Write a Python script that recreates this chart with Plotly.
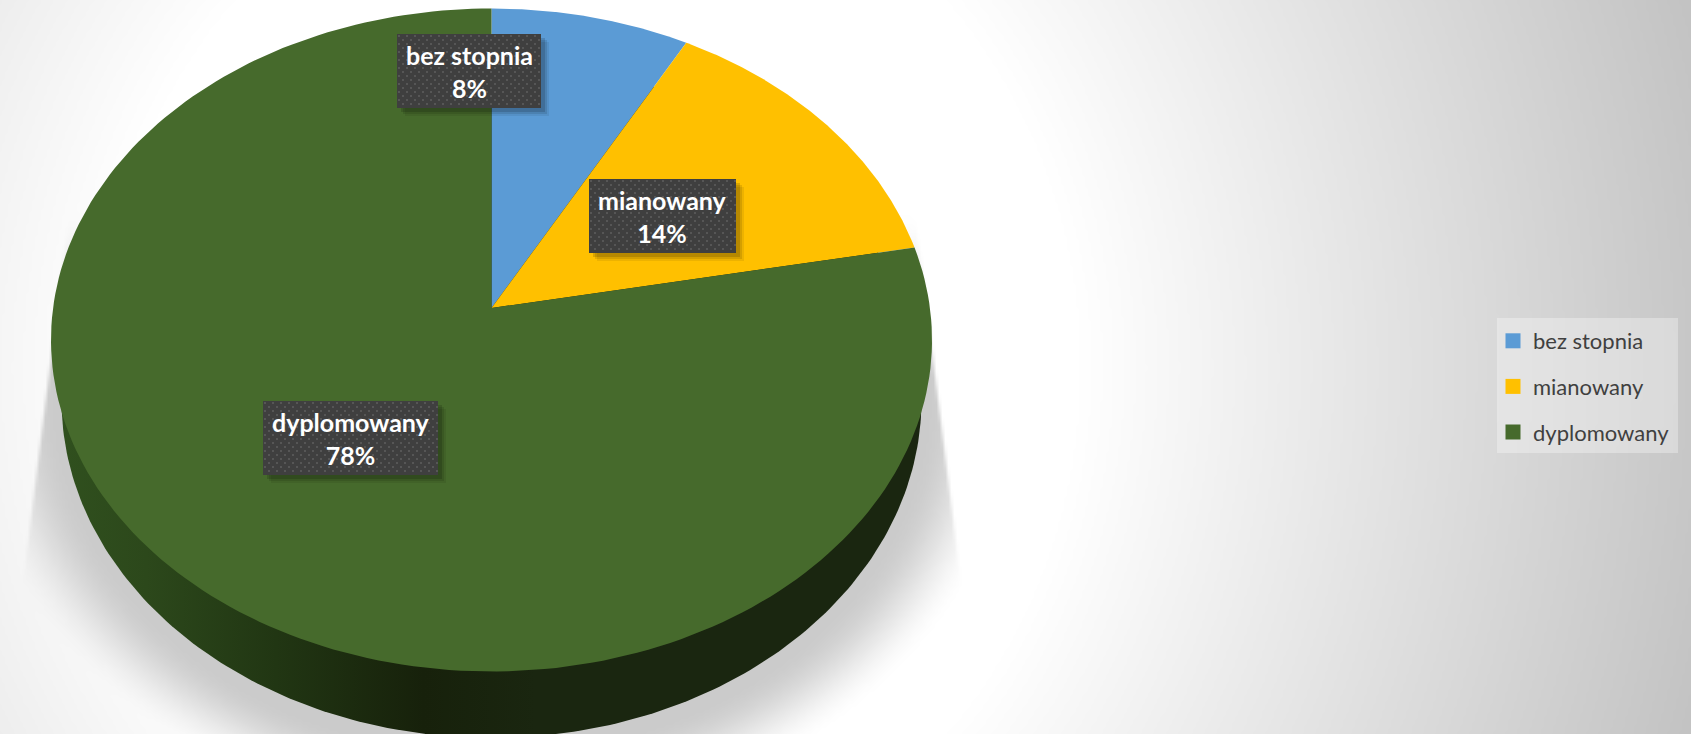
import numpy as np
import plotly.graph_objects as go

categories = ["bez stopnia", "mianowany", "dyplomowany"]
values = [8, 14, 78]
colors = ["#5B9BD5", "#FFC000", "#466A2C"]

W, H = 1691, 734
CX, CY, RX, RY = 491.5, 340.0, 440.5, 331.5
APEX = (CY - 308.0) / RY          # perspective shift of the pie centre


def rim(frac):
    """Point on the tilted pie's rim for a cumulative share (0..1), clockwise from top."""
    th = 2 * np.pi * np.asarray(frac, dtype=float)
    u, v = np.sin(th), np.cos(th)
    d = 1 + APEX * v
    return CX + RX * u * np.sqrt(1 - APEX ** 2) / d, CY - RY * (v + APEX) / d


# page background: soft radial gradient plus the pie's blurred drop shadow
gx = np.arange(-3, W + 6, 3.0)
gy = np.arange(-3, H + 6, 3.0)
X, Y = np.meshgrid(gx, gy)
d = np.sqrt(((X - 590) / 1101) ** 2 + ((Y - 367) / 1200) ** 2)
base = 255 - 100 * np.clip(d - 0.44, 0, None)


def smooth(t):
    t = np.clip(t, 0, 1)
    return t * t * (3 - 2 * t)


de = np.sqrt(((X - CX) / 482) ** 2 + ((Y - 395) / 395) ** 2)
a = smooth((1 - de) * 450 / 90 + 0.5)
hw = 430 + (Y - 270) * 0.125
a = a * smooth((hw - np.abs(X - CX)) / 5 + 0.5) * smooth((Y - 205) / 150)
z = np.round(base * (1 - a) + 203 * a).astype(np.uint8)

fig = go.Figure()
fig.add_trace(go.Heatmap(x=gx, y=gy, z=z, zmin=0, zmax=255, zsmooth="best", showscale=False,
                         colorscale=[[0, "#000000"], [1, "#ffffff"]], hoverinfo="skip"))

# side wall of the pie
t = np.linspace(0, 2 * np.pi, 361)
fig.add_trace(go.Scatter(
    x=CX + 430 * np.cos(t), y=400 + 338 * np.sin(t), mode="lines", line=dict(width=0),
    fill="toself", showlegend=False, hoverinfo="skip",
    fillgradient=dict(type="horizontal", start=60, stop=925, colorscale=[
        [0, "#30501E"], [0.1, "#2C481B"], [0.25, "#213613"], [0.42, "#17210B"],
        [0.55, "#1A2610"], [1, "#1A2610"]])))

# top face slices, built from the values
cum = np.concatenate([[0], np.cumsum(values)]) / np.sum(values)
for i, name in enumerate(categories):
    f = np.linspace(cum[i], cum[i + 1], 200)
    rx, ry = rim(f)
    fig.add_trace(go.Scatter(
        x=np.r_[CX, rx, CX], y=np.r_[CY - RY * APEX, ry, CY - RY * APEX],
        mode="lines", line=dict(width=0), fill="toself", fillcolor=colors[i],
        showlegend=False, hoverinfo="skip"))

# label boxes
boxes = [(397, 541, 34, 108), (589, 736, 179, 253), (263, 438, 401, 475)]
dotx, doty = [], []
for (x0, x1, y0, y1) in boxes:
    for off, col in ((8, "rgba(0,0,0,0.07)"), (6, "rgba(0,0,0,0.10)"), (4, "rgba(0,0,0,0.14)")):
        fig.add_trace(go.Scatter(
            x=[x0 + off, x1 + off, x1 + off, x0 + off, x0 + off],
            y=[y0 + off, y0 + off, y1 + off, y1 + off, y0 + off],
            mode="lines", line=dict(width=0), fill="toself", fillcolor=col,
            showlegend=False, hoverinfo="skip"))
    fig.add_trace(go.Scatter(
        x=[x0, x1, x1, x0, x0], y=[y0, y0, y1, y1, y0],
        mode="lines", line=dict(width=0), fill="toself", fillcolor="#3F3F3F",
        showlegend=False, hoverinfo="skip"))
    for r, yy in enumerate(np.arange(y0 + 2, y1, 4.0)):
        for xx in np.arange(x0 + 2 + (4 if r % 2 else 0), x1, 8.0):
            dotx.append(xx)
            doty.append(yy)
fig.add_trace(go.Scatter(x=dotx, y=doty, mode="markers", showlegend=False, hoverinfo="skip",
                         marker=dict(symbol="square", size=2, color="#565656", line=dict(width=0))))

for (x0, x1, y0, y1), name, v in zip(boxes, categories, values):
    fig.add_annotation(x=(x0 + x1) / 2, y=(y0 + y1) / 2, text=f"<b>{name}<br>{v}%</b>",
                       showarrow=False, xanchor="center", yanchor="middle",
                       font=dict(family="Lato", size=25, color="#ffffff"))

# legend panel and entries
fig.add_trace(go.Scatter(
    x=[1497, 1678, 1678, 1497, 1497], y=[318, 318, 453, 453, 318],
    mode="lines", line=dict(width=0), fill="toself", fillcolor="rgba(255,255,255,0.32)",
    showlegend=False, hoverinfo="skip"))
for i, name in enumerate(categories):
    fig.add_trace(go.Scatter(x=[None], y=[None], mode="markers", name=name, legendgroup=name,
                             marker=dict(symbol="square", size=15, color=colors[i])))

fig.update_layout(
    width=W, height=H, margin=dict(l=0, r=0, t=0, b=0),
    paper_bgcolor="#ffffff", plot_bgcolor="#ffffff",
    xaxis=dict(range=[0, W], visible=False, fixedrange=True),
    yaxis=dict(range=[H, 0], visible=False, fixedrange=True),
    legend=dict(x=1493 / W, y=1 - 320 / H, xanchor="left", yanchor="top",
                bgcolor="rgba(0,0,0,0)", tracegroupgap=14,
                font=dict(family="Lato", size=22, color="#404040")),
    hovermode=False,
)

fig.write_html("out.html", config={"displayModeBar": False},
               post_script="document.body.style.margin='0';document.body.style.overflow='hidden';")
